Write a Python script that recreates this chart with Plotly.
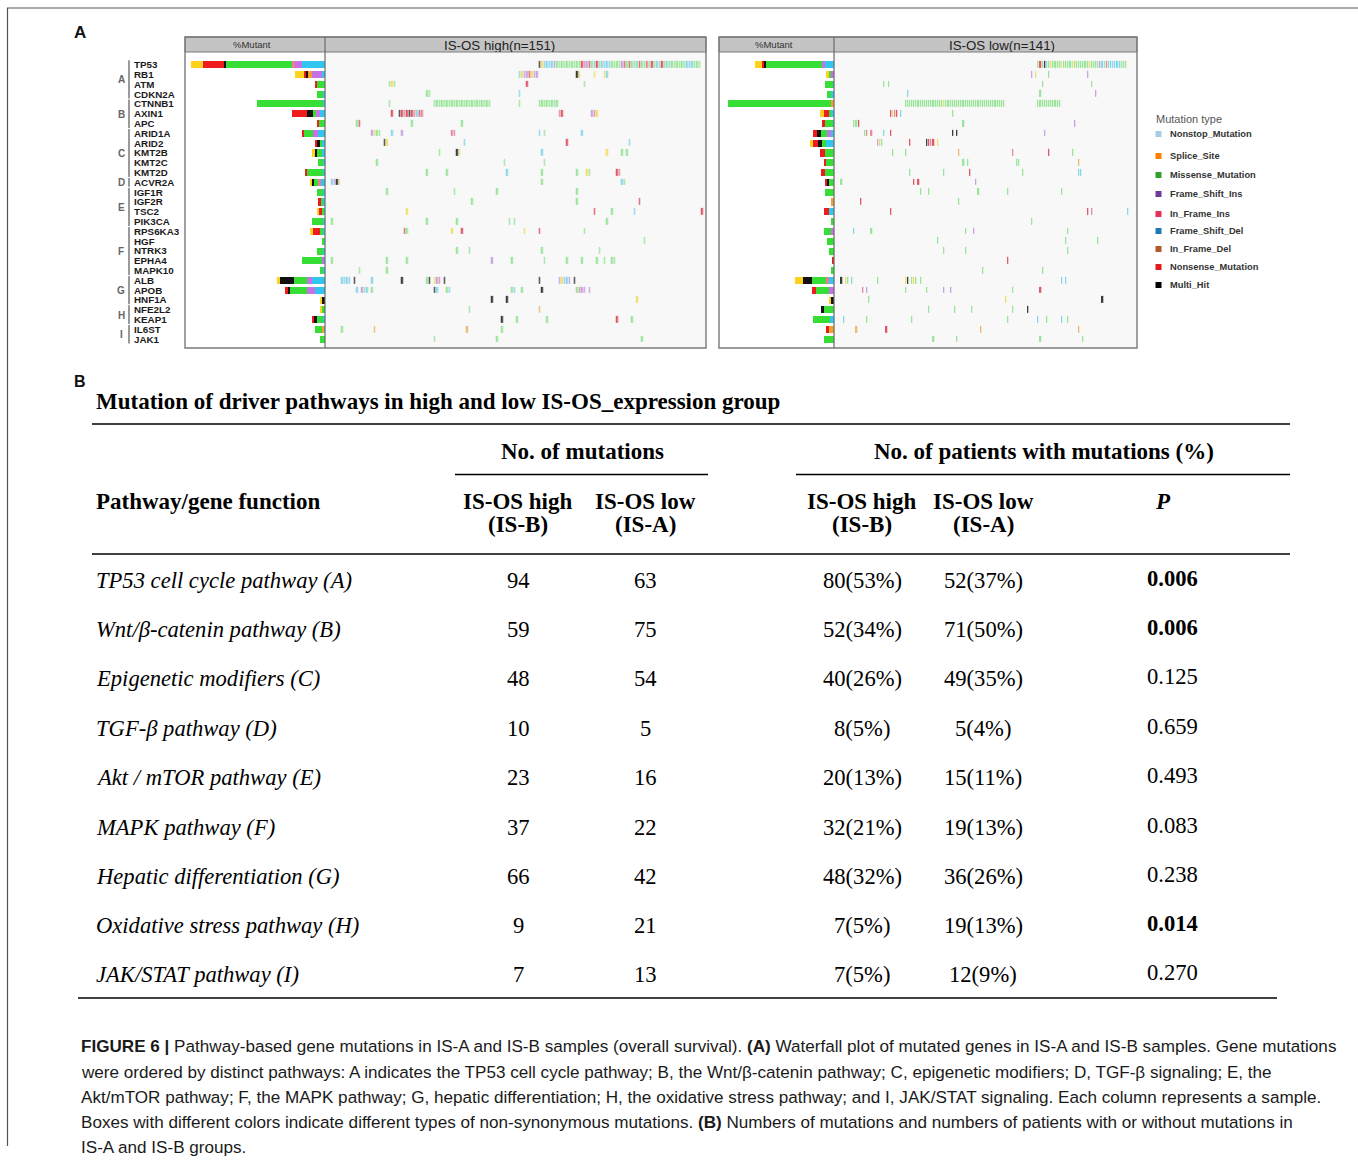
import plotly.graph_objects as go

W, H = 1358, 1166

# ---------------- Panel A data ----------------
genes = ["TP53", "RB1", "ATM", "CDKN2A", "CTNNB1", "AXIN1", "APC", "ARID1A", "ARID2",
         "KMT2B", "KMT2C", "KMT2D", "ACVR2A", "IGF1R", "IGF2R", "TSC2", "PIK3CA",
         "RPS6KA3", "HGF", "NTRK3", "EPHA4", "MAPK10", "ALB", "APOB", "HNF1A",
         "NFE2L2", "KEAP1", "IL6ST", "JAK1"]
groups = [("A", 0, 3), ("B", 4, 6), ("C", 7, 11), ("D", 12, 12), ("E", 13, 16),
          ("F", 17, 21), ("G", 22, 24), ("H", 25, 26), ("I", 27, 28)]

n_high, n_low = 151, 141

# mutation type codes: D=Frame_Shift_Del, I=Frame_Shift_Ins, P=In_Frame_Ins, O=In_Frame_Del,
# M=Missense, X=Multi_Hit, N=Nonsense, S=Splice_Site, T=Nonstop
high_cells = {
    "TP53": "85X 86S 87D 88D 89D 90D 91I 92-101M 102N 103P 104I 105N 106M 107D 108N 109M 110-113D 114-117M 118I 119N 120M 121N 122M 123D 124M 125N 126M 127M 128P 129M 130N 131M 132D 133M 134N 135D 136M 137D 138-143M 144-146D 147-149M",
    "RB1": "77D 78S 79I 80I 81N 82S 83I 84I 100X 101S 107S 111S 112D",
    "ATM": "25M 26S 27M 80N 103M",
    "CDKN2A": "40M 41M 77D",
    "CTNNB1": "25M 43-65M 77M 85-92M",
    "AXIN1": "26N 29X 30N 31P 32N 33X 34N 35P 36D 37N 38P 93P 94N 106I 107P 108S",
    "APC": "12M 13N 34M 54M",
    "ARID1A": "18I 19S 20M 21M 26D 30I 50P 51P 85D 87M 102D",
    "ARID2": "23X 24S 55D 96N 121D",
    "KMT2B": "45M 52X 53S 86D 112S 118M 120M",
    "KMT2C": "20M 71M 87M",
    "KMT2D": "40M 48M 72D 86M 100M 104S 105M 116N 117P",
    "ACVR2A": "2D 3I 4X 5S 86M 118D 119M",
    "IGF1R": "24M 51M 68M 100M",
    "IGF2R": "58M 100M 125N",
    "TSC2": "32S 107N 114M 123D 150N",
    "PIK3CA": "2M 40M 52M 73M 75M 112M",
    "RPS6KA3": "31N 32M 50S 54N 79S 85N 103M",
    "HGF": "127M",
    "NTRK3": "52M 57M 86M 109M",
    "EPHA4": "2M 24M 32M 66I 74M 87M 96M 102M 108M 111M 114M 115M",
    "MAPK10": "13M 24M",
    "ALB": "6D 7D 8D 9D 11X 18D 30X 40M 41X 43S 44I 45P 47X 85X 93I 94S 95D 96D 97I 99X",
    "APOB": "12D 14I 15M 16D 18M 43X 44D 48M 49D 74M 75D 78M 86X 100M 101P 102I 103I 105I",
    "HNF1A": "66X 72X 124S",
    "NFE2L2": "57M 85O",
    "KEAP1": "70X 76M 88M 116N 122M",
    "IL6ST": "6M 19O 56O 70M",
    "JAK1": "43M 68M 126M",
}
low_cells = {
    "TP53": "95M 96N 97M 98X 99D 100M 101S 102-105M 106S 107-110M 111S 112-118M 119S 120-123M 124I 125D 126M 127P 128-133D 134-136M",
    "RB1": "92I 94S 100M 118I",
    "ATM": "23M 25M 97M 120M",
    "CDKN2A": "34D 96M 122I",
    "CTNNB1": "33-50M 51S 52-79M 95-105M",
    "AXIN1": "26N 27S 28P 29N 31D 55M",
    "APC": "9M 10M 11N 60M 112I",
    "ARID1A": "14M 15P 17P 23D 26N 55X 57X 98I",
    "ARID2": "20I 21S 22M 35N 43X 44N 45P 46N 48S",
    "KMT2B": "27M 33M 58O 83P 100N 111M",
    "KMT2C": "60M 62M 85M 86M 114O",
    "KMT2D": "35M 51M 63N 88M 114D 115D",
    "ACVR2A": "3M 37N 39N 66I",
    "IGF1R": "40M 44M 67M 81M 106M",
    "IGF2R": "12N 58M",
    "TSC2": "26N 118N 120P 137D",
    "PIK3CA": "92M",
    "RPS6KA3": "9D 17M 61M 65I 109M",
    "HGF": "48M 108M 123M",
    "NTRK3": "51M 61M 109M",
    "EPHA4": "81N",
    "MAPK10": "69M 97M",
    "ALB": "3X 5S 6M 8D 20M 33S 34X 36M 37S 38M 40M 106D 108D",
    "APOB": "13P 15I 33M 43M 51I 54I 83M 96N",
    "HNF1A": "16M 80S 125X",
    "NFE2L2": "44M 56M 64M 83M 90X",
    "KEAP1": "4D 15M 36M 81M 95D 99M 106D 109M",
    "IL6ST": "10O 24N 68O 114O",
    "JAK1": "46M 57M 96M 116M",
}

# %Mutant side bars (counts per mutation type)
high_bars = {
    "TP53": "14D 4I 2P 40M 1X 13N 7S", "RB1": "2D 6I 2O 2X 1N 5S", "ATM": "5M 1N",
    "CDKN2A": "1D 4M", "CTNNB1": "1D 40M", "AXIN1": "3D 3I 1M 4X 9N",
    "APC": "4M 1N", "ARID1A": "4D 3I 6M 1N", "ARID2": "2D 1M 2X 1N",
    "KMT2B": "2D 3M 1X 2S", "KMT2C": "1D 3M", "KMT2D": "1D 10M 1N",
    "ACVR2A": "3D 1P 3M 1X 1S", "IGF1R": "1D 4M", "IGF2R": "1D 2M 1N",
    "TSC2": "1D 1M 2N 1S", "PIK3CA": "1D 7M", "RPS6KA3": "1D 2M 4N 2S",
    "HGF": "1D 1M", "NTRK3": "1D 4M", "EPHA4": "1D 1I 12M", "MAPK10": "1D 2M",
    "ALB": "8D 3I 8M 8X 2S", "APOB": "6D 5I 10M 2X 1N", "HNF1A": "2X 1S",
    "NFE2L2": "2M 1S", "KEAP1": "1D 4M 2X 1N", "IL6ST": "1D 1O 4M", "JAK1": "3M",
}
low_bars = {
    "TP53": "7D 2I 43M 2X 1N 5S", "RB1": "2I 2M 2S", "ATM": "1D 6M",
    "CDKN2A": "2D 3M", "CTNNB1": "2O 79M", "AXIN1": "3D 1M 4N 3S",
    "APC": "1D 6M 2N", "ARID1A": "2D 3I 5M 3X 3N", "ARID2": "6D 3M 3X 4N 2S",
    "KMT2B": "7M 4N", "KMT2C": "6M 2N", "KMT2D": "7M 3N", "ACVR2A": "4M 1X 2N",
    "IGF1R": "7M", "IGF2R": "2O", "TSC2": "4D 4N", "PIK3CA": "2M",
    "RPS6KA3": "2I 6M", "HGF": "5M", "NTRK3": "4M", "EPHA4": "1N", "MAPK10": "2M",
    "ALB": "4D 2P 11M 7X 6S", "APOB": "4I 10M 3N", "HNF1A": "2X 2S",
    "NFE2L2": "8M 2X", "KEAP1": "3D 13M", "IL6ST": "4O 2N", "JAK1": "8M",
}

type_order = ["D", "I", "P", "O", "M", "X", "N", "S", "T"]
bar_colors = {"D": "#30C6F0", "I": "#C672E6", "P": "#EE7A96", "O": "#F4A030",
              "M": "#36DE36", "X": "#111111", "N": "#EE1C1C", "S": "#FFD21E", "T": "#A6CEE3"}
cell_colors = {"D": "#8CD6EC", "I": "#C8A2E4", "P": "#E68AA2", "O": "#EDB870",
               "M": "#9BE59B", "X": "#3A3A3A", "N": "#DE5868", "S": "#EEDF6A", "T": "#B8DCEB"}

legend_types = ["Nonstop_Mutation", "Splice_Site", "Missense_Mutation", "Frame_Shift_Ins",
                "In_Frame_Ins", "Frame_Shift_Del", "In_Frame_Del", "Nonsense_Mutation", "Multi_Hit"]
legend_colors = ["#A6CEE3", "#FF7F00", "#33A02C", "#6A3D9A", "#E3305A", "#1F78B4",
                 "#B15928", "#E31A1C", "#000000"]

# ---------------- Panel B data ----------------
pathways = ["TP53 cell cycle pathway (A)", "Wnt/β-catenin pathway (B)", "Epigenetic modifiers (C)",
            "TGF-β pathway (D)", "Akt / mTOR pathway (E)", "MAPK pathway (F)",
            "Hepatic differentiation (G)", "Oxidative stress pathway (H)", "JAK/STAT pathway (I)"]
mut_high = [94, 59, 48, 10, 23, 37, 66, 9, 7]
mut_low = [63, 75, 54, 5, 16, 22, 42, 21, 13]
pat_high_n = [80, 52, 40, 8, 20, 32, 48, 7, 7]
pat_high_pct = [53, 34, 26, 5, 13, 21, 32, 5, 5]
pat_low_n = [52, 71, 49, 5, 15, 19, 36, 19, 12]
pat_low_pct = [37, 50, 35, 4, 11, 13, 26, 13, 9]
p_values = ["0.006", "0.006", "0.125", "0.659", "0.493", "0.083", "0.238", "0.014", "0.270"]

caption_lines = [
    "<b>FIGURE 6 |</b> Pathway-based gene mutations in IS-A and IS-B samples (overall survival). <b>(A)</b> Waterfall plot of mutated genes in IS-A and IS-B samples. Gene mutations",
    "were ordered by distinct pathways: A indicates the TP53 cell cycle pathway; B, the Wnt/β-catenin pathway; C, epigenetic modifiers; D, TGF-β signaling; E, the",
    "Akt/mTOR pathway; F, the MAPK pathway; G, hepatic differentiation; H, the oxidative stress pathway; and I, JAK/STAT signaling. Each column represents a sample.",
    "Boxes with different colors indicate different types of non-synonymous mutations. <b>(B)</b> Numbers of mutations and numbers of patients with or without mutations in",
    "IS-A and IS-B groups.",
]


# ---------------- helpers ----------------
def parse_cells(s):
    out = []
    for tok in s.split():
        t = tok[-1]
        r = tok[:-1]
        if "-" in r:
            a, b = r.split("-")
            out += [(i, t) for i in range(int(a), int(b) + 1)]
        else:
            out.append((int(r), t))
    return out


def parse_bars(s):
    d = {}
    for tok in s.split():
        d[tok[-1]] = d.get(tok[-1], 0) + int(tok[:-1])
    return d


def px(x):
    return x / W


def py(y):
    return 1 - y / H


SANS = "Liberation Sans, Arial, sans-serif"
SERIF = "Liberation Serif, Times New Roman, serif"

fig = go.Figure()
ann = []
shapes = []


def text(x, y, s, size, family=SANS, color="#000", xanchor="left", yanchor="middle", height=None):
    a = dict(x=px(x), y=py(y), xref="paper", yref="paper", text=s, showarrow=False,
             xanchor=xanchor, yanchor=yanchor, font=dict(size=size, family=family, color=color))
    if height is not None:
        a["height"] = height
        a["borderpad"] = 0
    ann.append(a)


def line(x0, y0, x1, y1, color="#000", width=1.0, layer="above"):
    shapes.append(dict(type="line", xref="paper", yref="paper", x0=px(x0), y0=py(y0),
                       x1=px(x1), y1=py(y1), line=dict(color=color, width=width), layer=layer))


def rect(x0, y0, x1, y1, fill=None, color="#808080", width=1.0, layer="above"):
    shapes.append(dict(type="rect", xref="paper", yref="paper", x0=px(x0), y0=py(y0),
                       x1=px(x1), y1=py(y1), fillcolor=fill if fill else "rgba(0,0,0,0)",
                       line=dict(color=color, width=width), layer=layer))


# ---------------- panel A: axes ----------------
BODY_TOP, BODY_BOT = 52, 348
ydom = [py(BODY_BOT), py(BODY_TOP)]
yrange = [28.89, -1.3]

panels = [
    # (bars, cells, n, bar axes, cell axes, bar px span, cell px span, bar max, cell range, header, header centre)
    (high_bars, high_cells, n_high, ("x", "y"), ("x2", "y2"), (185, 325), (325, 706), 84.8,
     (-0.8, 151.6), "IS-OS high(n=151)", 499),
    (low_bars, low_cells, n_low, ("x3", "y3"), ("x4", "y4"), (719, 834), (834, 1137), 87.8,
     (-0.5, 141.1), "IS-OS low(n=141)", 1002),
]

ncol = len(type_order)
cscale = []
for k, t in enumerate(type_order):
    cscale.append([k / ncol, cell_colors[t]])
    cscale.append([(k + 1) / ncol, cell_colors[t]])

layout_axes = {}
for bars, cells, nsamp, bax, cax, bpx, cpx, bmax, crange, hdr, hcx in panels:
    parsed = {g: parse_bars(bars.get(g, "")) for g in genes}
    for t in type_order:
        xs = [parsed[g].get(t, 0) for g in genes]
        if sum(xs) == 0:
            continue
        fig.add_trace(go.Bar(orientation="h", x=xs, y=list(range(len(genes))), width=0.72,
                             marker=dict(color=bar_colors[t], line=dict(width=0)),
                             xaxis=bax[0], yaxis=bax[1], showlegend=False, hoverinfo="skip"))
    z = [[None] * nsamp for _ in genes]
    for gi, g in enumerate(genes):
        for idx, t in parse_cells(cells.get(g, "")):
            if 0 <= idx < nsamp:
                z[gi][idx] = type_order.index(t)
    fig.add_trace(go.Heatmap(z=z, x=list(range(nsamp)), y=list(range(len(genes))),
                             colorscale=cscale, zmin=-0.5, zmax=ncol - 0.5, showscale=False,
                             xgap=0.7, ygap=3, hoverinfo="skip",
                             xaxis=cax[0], yaxis=cax[1]))
    for (ax, ay), prng, xr in ((bax, bpx, [bmax, 0]), (cax, cpx, list(crange))):
        xk = "xaxis" + ax[1:]
        yk = "yaxis" + ay[1:]
        layout_axes[xk] = dict(domain=[px(prng[0]), px(prng[1])], range=xr, visible=False,
                               showgrid=False, zeroline=False, anchor=ay, fixedrange=True)
        layout_axes[yk] = dict(domain=ydom, range=yrange, visible=False, showgrid=False,
                               zeroline=False, anchor=ax, fixedrange=True)
    rect(cpx[0], BODY_TOP, cpx[1], BODY_BOT, fill="#F8F8F8", color="rgba(0,0,0,0)", width=0, layer="below")
    rect(bpx[0], 37, cpx[1], 52, fill="#C4C4C4", color="#7A7A7A", width=1)
    rect(bpx[0], 37, cpx[1], BODY_BOT, color="#7A7A7A", width=1.4)
    line(cpx[0], 37, cpx[0], BODY_BOT, color="#6A6A6A", width=1.2)
    text((bpx[0] + bpx[1]) / 2 - 3, 44.5, "%Mutant", 9.5, color="#333", xanchor="center", height=13)
    text(hcx, 44.5, hdr, 13.3, color="#222", xanchor="center", height=14)

# gene labels and pathway groups
ROW0, DROW = 64.7, 9.8
for gi, g in enumerate(genes):
    text(133, ROW0 + gi * DROW, "<b>" + g + "</b>", 9.8, color="#1A1A1A", height=9.4)
for letter, a, b in groups:
    y0 = ROW0 + (a - 0.45) * DROW
    y1 = ROW0 + (b + 0.45) * DROW
    line(129, y0, 129, y1, color="#9A9A9A", width=2)
    text(121, ROW0 + (a + b) / 2 * DROW, "<b>" + letter + "</b>", 10, color="#666", xanchor="center", height=10)

# legend
text(1154, 119, "Mutation type", 11, color="#555")
leg_y = [134, 156, 175, 194, 214, 231, 249, 267, 285]
for name, col, yy in zip(legend_types, legend_colors, leg_y):
    rect(1155.5, yy - 3, 1161.5, yy + 3, fill=col, color=col, width=0)
    text(1168, yy, "<b>" + name + "</b>", 9.3, color="#333")

# panel letters
text(72, 32, "<b>A</b>", 17, color="#111")
text(72, 381, "<b>B</b>", 16, color="#111")

# ---------------- panel B: table ----------------
HF = 23      # header font
RF = 22.6    # row font
text(94, 401, "<b>Mutation of driver pathways in high and low IS-OS_expression group</b>", HF, family=SERIF)
line(92, 424, 1290, 424, width=1.6)
text(582, 451, "<b>No. of mutations</b>", HF, family=SERIF, xanchor="center")
text(1044, 451, "<b>No. of patients with mutations (%)</b>", HF, family=SERIF, xanchor="center")
line(455, 474.5, 708, 474.5, width=1.3)
line(796, 474.5, 1290, 474.5, width=1.3)
text(94, 501, "<b>Pathway/gene function</b>", HF, family=SERIF)
col_x = [518, 645, 862, 983, 1172]
for cx, (l1, l2) in zip(col_x[:4], [("IS-OS high", "(IS-B)"), ("IS-OS low", "(IS-A)"),
                                    ("IS-OS high", "(IS-B)"), ("IS-OS low", "(IS-A)")]):
    text(cx, 501, "<b>" + l1 + "</b>", HF, family=SERIF, xanchor="center")
    text(cx, 524, "<b>" + l2 + "</b>", HF, family=SERIF, xanchor="center")
text(1163, 501, "<b><i>P</i></b>", HF, family=SERIF, xanchor="center")
line(92, 554, 1290, 554, width=1.6)

row_y = [580, 629, 678, 728, 777, 827, 876, 925, 974]
for i, yy in enumerate(row_y):
    text(94, yy, "<i>" + pathways[i] + "</i>", RF, family=SERIF)
    text(col_x[0], yy, str(mut_high[i]), RF, family=SERIF, xanchor="center")
    text(col_x[1], yy, str(mut_low[i]), RF, family=SERIF, xanchor="center")
    text(col_x[2], yy, "%d(%d%%)" % (pat_high_n[i], pat_high_pct[i]), RF, family=SERIF, xanchor="center")
    text(col_x[3], yy, "%d(%d%%)" % (pat_low_n[i], pat_low_pct[i]), RF, family=SERIF, xanchor="center")
    pv = p_values[i]
    if float(pv) < 0.05:
        pv = "<b>" + pv + "</b>"
    text(col_x[4], yy - 2, pv, RF, family=SERIF, xanchor="center")
line(78, 998, 1277, 998, width=1.6)

# ---------------- caption ----------------
cap_y = [1046, 1072, 1097, 1122, 1147]
for s, yy in zip(caption_lines, cap_y):
    text(79, yy, s, 17.1, color="#1A1A1A")

# outer frame (top and left edges visible)
line(7, 8, 1358, 8, color="#555", width=1.2)
line(7.5, 8, 7.5, 1146, color="#555", width=1.2)

fig.update_layout(
    width=W, height=H, margin=dict(l=0, r=0, t=0, b=0),
    paper_bgcolor="white", plot_bgcolor="rgba(0,0,0,0)",
    barmode="stack", bargap=0, showlegend=False,
    annotations=ann, shapes=shapes, **layout_axes,
)

fig.write_html("out.html")
